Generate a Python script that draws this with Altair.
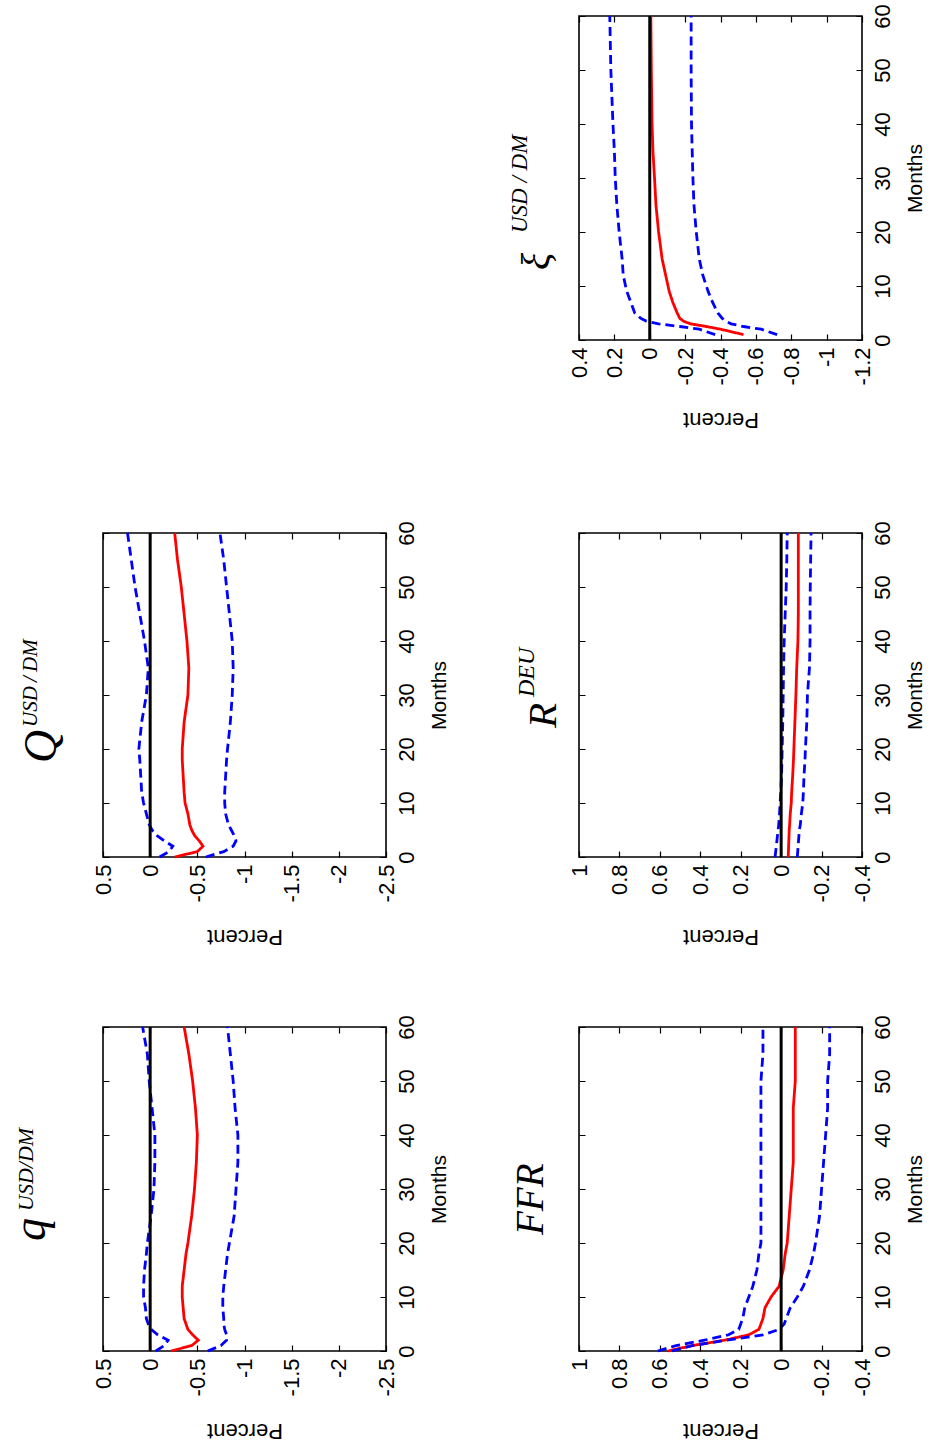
import altair as alt
import pandas as pd

# ---------------- data ----------------
MONTHS = [0, 1, 2, 3, 4, 5, 6, 8, 10, 12, 15, 18, 20, 25, 30, 35, 40, 45, 50, 55, 60]
XI_MONTHS = [1, 2, 2.5, 3, 3.5, 4, 5, 7, 9, 12, 15, 20, 25, 30, 35, 40, 50, 60]
ZERO = [0.0]

q_mid = [-0.22, -0.44, -0.51, -0.45, -0.40, -0.38, -0.36, -0.35, -0.34, -0.34, -0.36,
         -0.38, -0.40, -0.44, -0.47, -0.49, -0.50, -0.48, -0.45, -0.41, -0.36]
q_hi = [-0.06, -0.15, -0.19, -0.08, -0.01, 0.02, 0.04, 0.05, 0.07, 0.07, 0.06,
        0.04, 0.03, -0.01, -0.04, -0.05, -0.05, -0.02, 0.01, 0.03, 0.08]
q_lo = [-0.61, -0.75, -0.81, -0.81, -0.79, -0.78, -0.78, -0.77, -0.77, -0.78, -0.80,
        -0.82, -0.84, -0.89, -0.91, -0.93, -0.93, -0.90, -0.88, -0.85, -0.82]

Q_mid = [-0.26, -0.50, -0.56, -0.52, -0.47, -0.44, -0.42, -0.40, -0.37, -0.36, -0.35,
         -0.34, -0.34, -0.36, -0.40, -0.41, -0.39, -0.36, -0.33, -0.29, -0.26]
Q_hi = [-0.10, -0.20, -0.24, -0.15, -0.07, -0.02, 0.01, 0.04, 0.07, 0.09, 0.10,
        0.11, 0.12, 0.09, 0.04, 0.02, 0.06, 0.11, 0.16, 0.20, 0.24]
Q_lo = [-0.59, -0.78, -0.88, -0.91, -0.89, -0.86, -0.83, -0.80, -0.79, -0.79, -0.80,
        -0.81, -0.82, -0.85, -0.87, -0.88, -0.87, -0.84, -0.81, -0.78, -0.74]

ffr_mid = [0.56, 0.44, 0.28, 0.16, 0.11, 0.10, 0.09, 0.08, 0.05, 0.01, -0.01,
           -0.02, -0.03, -0.04, -0.05, -0.06, -0.06, -0.06, -0.07, -0.07, -0.07]
ffr_hi = [0.61, 0.52, 0.38, 0.26, 0.21, 0.20, 0.19, 0.18, 0.16, 0.14, 0.12,
          0.11, 0.10, 0.10, 0.10, 0.10, 0.10, 0.10, 0.10, 0.09, 0.09]
ffr_lo = [0.54, 0.44, 0.27, 0.09, 0.01, -0.015, -0.025, -0.045, -0.08, -0.11, -0.14,
          -0.16, -0.17, -0.19, -0.20, -0.21, -0.22, -0.23, -0.23, -0.24, -0.24]

r_mid = [-0.035, -0.036, -0.037, -0.038, -0.039, -0.040, -0.042, -0.045, -0.050, -0.052, -0.057,
         -0.061, -0.063, -0.068, -0.073, -0.077, -0.083, -0.085, -0.085, -0.085, -0.085]
r_hi = [0.030, 0.027, 0.024, 0.021, 0.018, 0.015, 0.012, 0.008, 0.005, 0.002, -0.002,
        -0.004, -0.005, -0.008, -0.010, -0.012, -0.015, -0.020, -0.025, -0.028, -0.030]
r_lo = [-0.080, -0.082, -0.084, -0.086, -0.088, -0.090, -0.095, -0.100, -0.107, -0.110, -0.113,
        -0.118, -0.120, -0.127, -0.130, -0.140, -0.143, -0.143, -0.144, -0.146, -0.148]

xi_mid = [-0.53, -0.40, -0.32, -0.23, -0.19, -0.17, -0.155, -0.13, -0.11, -0.09, -0.07,
          -0.05, -0.035, -0.027, -0.018, -0.013, -0.009, -0.006]
xi_hi = [-0.37, -0.28, -0.17, -0.05, 0.02, 0.05, 0.085, 0.107, 0.13, 0.15, 0.156,
         0.173, 0.186, 0.195, 0.20, 0.208, 0.22, 0.226]
xi_lo = [-0.72, -0.63, -0.53, -0.46, -0.43, -0.41, -0.385, -0.355, -0.33, -0.30, -0.28,
         -0.263, -0.25, -0.244, -0.24, -0.236, -0.234, -0.234]

TICKS_Q = [0.5, 0, -0.5, -1, -1.5, -2, -2.5]
TICKS_R = [1, 0.8, 0.6, 0.4, 0.2, 0, -0.2, -0.4]
TICKS_XI = [0.4, 0.2, 0, -0.2, -0.4, -0.6, -0.8, -1, -1.2]
TICKS_M = [0, 10, 20, 30, 40, 50, 60]

SERIES = ["mid", "lo", "hi"]

# ---------------- layout / style ----------------
W = 283
H = 324
SANS = "Liberation Sans"
SERIF = "Liberation Serif"

LABEL_EXPR = ("datum.value == 0 ? '0' : (datum.value < 0 ? '-' + format(-datum.value, '~g') "
              ": format(datum.value, '~g'))")


def panel(months, mid, lo, hi, xdom, xticks, titles):
    df = pd.DataFrame({"Months": months, "mid": mid, "lo": lo, "hi": hi})
    long = df.melt("Months", var_name="series", value_name="Percent")

    xscale = alt.Scale(domain=xdom, reverse=True, nice=False, zero=False)
    yscale = alt.Scale(domain=[0, 60], nice=False, zero=False)

    xaxis = alt.Axis(
        values=xticks, labelExpr=LABEL_EXPR, labelAngle=270, labelAlign="right",
        labelBaseline="middle", labelPadding=7, labelFontSize=22, labelFont=SANS,
        labelColor="black", labelFlush=False, labelOverlap=False,
        ticks=False, domain=False, grid=True, gridColor="black", gridOpacity=1,
        gridWidth=1.2, gridDash=[6, H - 12],
        title="Percent", titleAngle=180, titleFontSize=22, titleFont=SANS,
        titleFontWeight="normal", titleColor="black", titleX=W / 2, titleY=79,
        titleAlign="center", titleBaseline="middle",
    )
    yaxis = alt.Axis(
        orient="right", values=TICKS_M, labelAngle=270, labelAlign="center",
        labelBaseline="top", labelPadding=10, labelFontSize=22, labelFont=SANS,
        labelColor="black", labelFlush=False, labelOverlap=False,
        ticks=False, domain=False, grid=True, gridColor="black", gridOpacity=1,
        gridWidth=1.2, gridDash=[6, W - 12],
        title="Months", titleAngle=270, titleFontSize=21, titleFont=SANS,
        titleFontWeight="normal", titleColor="black", titleX=42, titleY=H / 2,
        titleAlign="center", titleBaseline="top",
    )

    lines = alt.Chart(long).mark_line(strokeWidth=2.8).encode(
        x=alt.X("Percent:Q", scale=xscale, axis=xaxis),
        y=alt.Y("Months:Q", scale=yscale, axis=yaxis),
        color=alt.Color("series:N", scale=alt.Scale(domain=SERIES,
                        range=["#ff0000", "#0000ff", "#0000ff"]), legend=None),
        strokeDash=alt.StrokeDash("series:N", scale=alt.Scale(domain=SERIES,
                                  range=[[1, 0], [9, 5], [9, 5]]), legend=None),
        detail="series:N",
        order=alt.Order("Months:Q"),
    )
    zero = alt.Chart(pd.DataFrame({"zero": ZERO})).mark_rule(
        color="black", strokeWidth=3).encode(
        x=alt.X("zero:Q", scale=xscale, axis=xaxis))

    layers = [lines, zero]
    for label, dx, dy, size in titles:
        layers.append(
            alt.Chart(pd.DataFrame({"t": [0]})).mark_text(
                angle=270, align="left", baseline="alphabetic", font=SERIF,
                fontStyle="italic", fontSize=size, color="black").encode(
                x=alt.value(dx), y=alt.value(dy), text=alt.value(label))
        )
    return alt.layer(*layers).properties(width=W, height=H)


blank = alt.Chart(pd.DataFrame({"b": [0]})).mark_point(opacity=0).encode(
    x=alt.X("b:Q", axis=None), y=alt.Y("b:Q", axis=None)
).properties(width=W, height=347, view=alt.ViewBackground(stroke="transparent"))

p_xi = panel(XI_MONTHS, xi_mid, xi_lo, xi_hi, [-1.2, 0.4], TICKS_XI,
             [("ξ", -30, 254, 40), ("USD / DM", -52, 217, 23)])
p_Q = panel(MONTHS, Q_mid, Q_lo, Q_hi, [-2.5, 0.5], TICKS_Q,
            [("Q", -47, 230, 46), ("USD\u2009/\u2009DM", -66, 194, 21)])
p_R = panel(MONTHS, r_mid, r_lo, r_hi, [-0.4, 1], TICKS_R,
            [("R", -23, 195, 41), ("DEU", -45, 164, 24)])
p_q = panel(MONTHS, q_mid, q_lo, q_hi, [-2.5, 0.5], TICKS_Q,
            [("q", -58, 214, 46), ("USD/DM", -70, 184, 22)])
p_ffr = panel(MONTHS, ffr_mid, ffr_lo, ffr_hi, [-0.4, 1], TICKS_R,
              [("FFR", -36, 208, 39)])

chart = alt.concat(
    blank, p_xi, p_Q, p_R, p_q, p_ffr,
    columns=2, spacing={"row": 170, "column": 193}, bounds="flush", align="each",
).properties(
    autosize=alt.AutoSizeParams(type="none"),
    padding={"left": 103, "top": 16, "right": 828, "bottom": 1439},
    background="white",
).configure_view(stroke="black", strokeWidth=1.6)

chart.save("out.html", embed_options={"renderer": "svg", "actions": False})
